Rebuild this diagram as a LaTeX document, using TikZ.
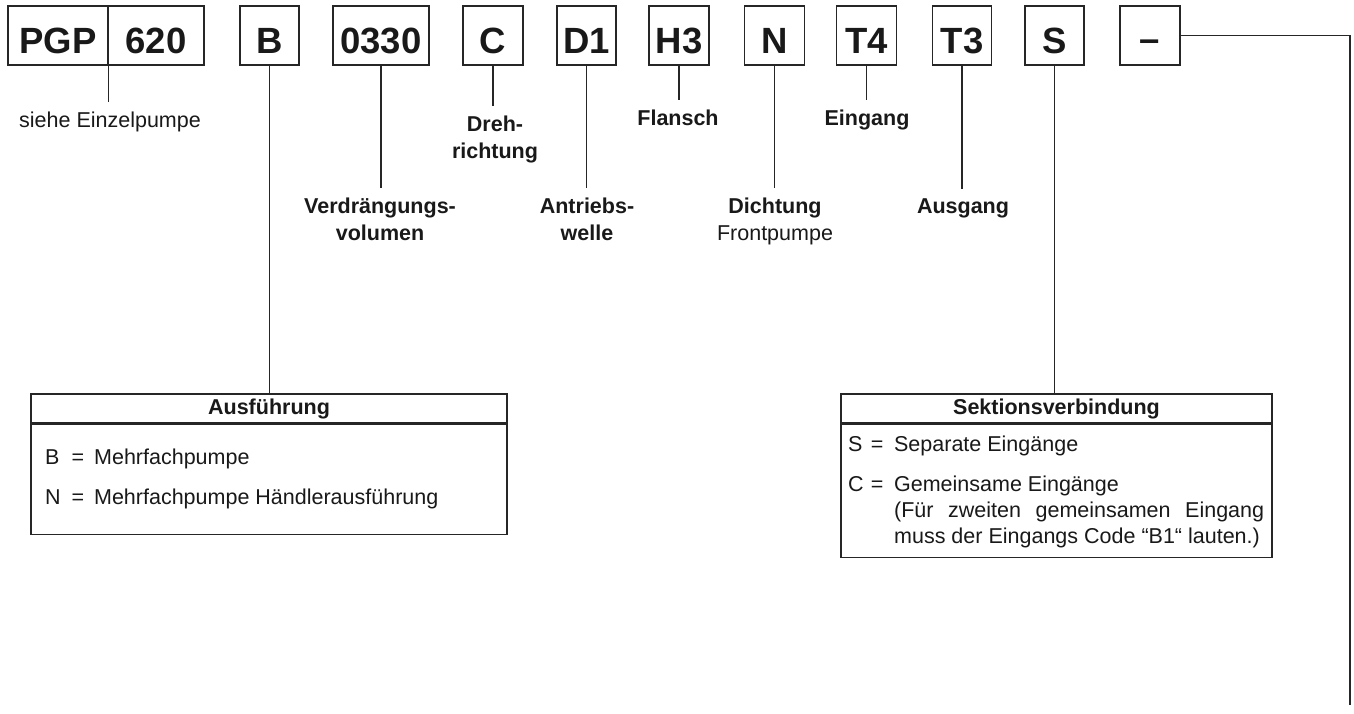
\documentclass[tikz,border=0pt]{standalone}
\usepackage{fontspec}
\setmainfont{Liberation Sans}
\begin{document}
\begin{tikzpicture}[x=1pt,y=-1pt,
  ln/.style={line width=1.25pt, draw=black!85},
  codebox/.style={draw=black!85, line width=1.25pt, minimum height=59pt, inner sep=0pt,
    text height=36pt, text depth=0pt, font=\fontsize{36.5}{40}\selectfont\bfseries, text=black!90},
  lbl/.style={anchor=base, inner xsep=0pt, inner ysep=9pt, align=center,
    font=\fontsize{21.5}{27}\selectfont\bfseries, text=black!90},
  hdr/.style={draw=black!85, line width=1.25pt, minimum height=29pt, inner sep=0pt,
    font=\fontsize{21.5}{26}\selectfont\bfseries, text=black!90},
  body/.style={draw=black!85, line width=1.25pt, anchor=north, inner sep=0pt},
  entry/.style={anchor=base west, inner sep=0pt, font=\fontsize{21.5}{26}\selectfont, text=black!90}
]
\fill[white] (0,0) rectangle (1354,713);
\useasboundingbox (0,0) rectangle (1354,713);

% code boxes
\node[codebox, minimum width=100pt] (pgp) at (58,35.5) {PGP};
\node[codebox, minimum width=96pt] (n620) at (156,35.5) {620};
\node[codebox, minimum width=59pt] (b) at (269.5,35.5) {B};
\node[codebox, minimum width=96pt] (vol) at (381,35.5) {0330};
\node[codebox, minimum width=60pt] (c) at (493,35.5) {C};
\node[codebox, minimum width=59pt] (d1) at (586.5,35.5) {D1};
\node[codebox, minimum width=60pt] (h3) at (679,35.5) {H3};
\node[codebox, minimum width=60pt] (n) at (774.5,35.5) {N};
\node[codebox, minimum width=60pt] (t4) at (866.5,35.5) {T4};
\node[codebox, minimum width=59pt] (t3) at (962,35.5) {T3};
\node[codebox, minimum width=59pt] (s) at (1054.5,35.5) {S};
\node[codebox, minimum width=60pt] (dash) at (1150,35.5) {\raisebox{2pt}{–}};

% labels (base anchor = baseline of the last line)
\node[lbl, font=\fontsize{21.5}{27}\selectfont\mdseries] (siehe) at (110,127) {siehe Einzelpumpe};
\node[lbl] (dreh) at (495,158) {Dreh-\\richtung};
\node[lbl] (verd) at (380,240) {Verdrängungs-\\volumen};
\node[lbl] (antr) at (587,240) {Antriebs-\\welle};
\node[lbl] (flan) at (678,125) {Flansch};
\node[lbl] (dicht) at (775,240) {Dichtung\\\mdseries Frontpumpe};
\node[lbl] (eing) at (867,125) {Eingang};
\node[lbl] (ausg) at (963,213) {Ausgang};

% tables
\node[hdr, minimum width=476pt] (ausH) at (269,408.5) {Ausführung};
\node[body, minimum width=476pt, minimum height=110pt] (ausB) at (ausH.south) {};
\node[entry] (e1) at (45,464) {\rlap{B}\hspace{26.4pt}=\hspace{10pt}Mehrfachpumpe};
\node[entry] (e2) at (45,504) {\rlap{N}\hspace{26.4pt}=\hspace{10pt}Mehrfachpumpe Händlerausführung};

\node[hdr, minimum width=431pt] (sekH) at (1056.5,408.5) {Sektionsverbindung};
\node[body, minimum width=431pt, minimum height=133pt] (sekB) at (sekH.south) {};
\node[entry] (e3) at (848,451) {\rlap{S}\hspace{22.7pt}=\hspace{10.7pt}Separate Eingänge};
\node[entry] (e4) at (848,491) {\rlap{C}\hspace{22.7pt}=\hspace{10.7pt}\parbox[t]{370pt}{\fontsize{21.5}{26}\selectfont Gemeinsame Eingänge\\ (Für zweiten gemeinsamen Eingang\linebreak muss der Eingangs Code “B1“ lauten.)}};

% connectors
\draw[ln] (pgp.south east) -- (pgp.south east |- siehe.north);
\draw[ln] (b.south) -- (b.south |- ausH.north);
\draw[ln] (vol.south) -- (vol.south |- verd.north);
\draw[ln] (c.south) -- (c.south |- dreh.north);
\draw[ln] (d1.south) -- (d1.south |- antr.north);
\draw[ln] (h3.south) -- (h3.south |- flan.north);
\draw[ln] (n.south) -- (n.south |- dicht.north);
\draw[ln] (t4.south) -- (t4.south |- eing.north);
\draw[ln] (t3.south) -- (t3.south |- ausg.north);
\draw[ln] (s.south) -- (s.south |- sekH.north);
\coordinate (endpt) at (1350,705);
\draw[ln] (dash.east) -| (endpt);
\end{tikzpicture}
\end{document}
